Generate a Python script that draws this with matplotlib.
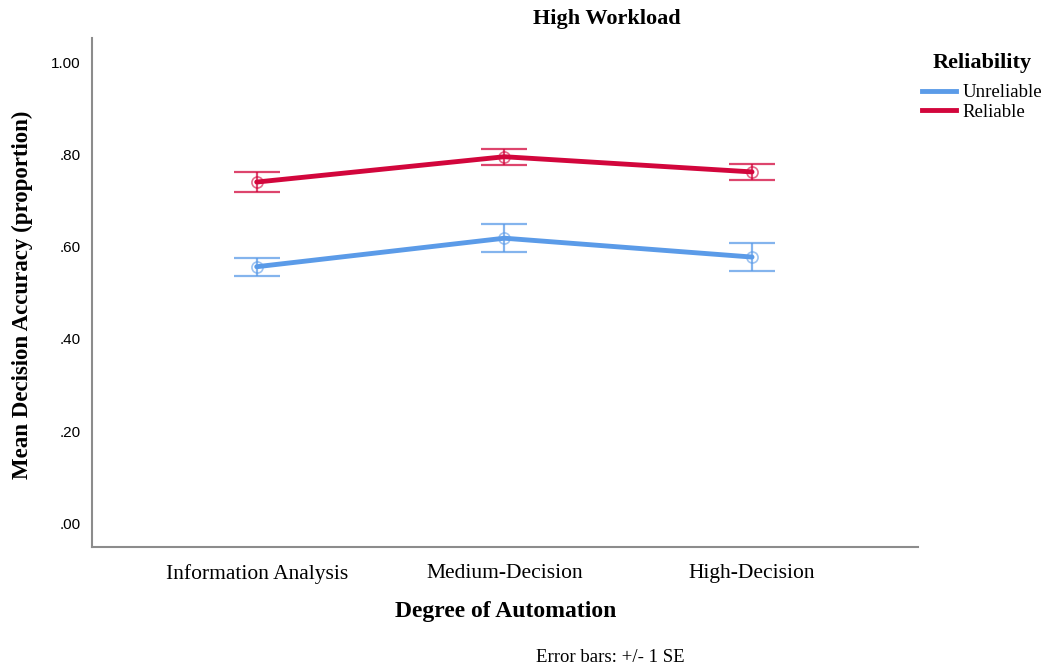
import matplotlib
matplotlib.use("Agg")
import matplotlib.pyplot as plt
from matplotlib.lines import Line2D

categories = ["Information Analysis", "Medium-Decision", "High-Decision"]
series_names = ["Unreliable", "Reliable"]
unreliable_mean = [0.557, 0.619, 0.578]
unreliable_se = [0.020, 0.030, 0.030]
reliable_mean = [0.741, 0.796, 0.763]
reliable_se = [0.021, 0.017, 0.017]
yticks = [0.0, 0.2, 0.4, 0.6, 0.8, 1.0]
ytick_labels = [".00", ".20", ".40", ".60", ".80", "1.00"]

blue = "#5b9be8"
red = "#d2063c"
serif = ["Liberation Serif", "DejaVu Serif"]
sans = ["Liberation Sans", "DejaVu Sans"]

fig = plt.figure(figsize=(10.44, 6.69), dpi=100)
ax = fig.add_axes([92/1044, 1-547/669, (918-92)/1044, (547-38)/669])

x = list(range(len(categories)))
for mean, se, col in [(unreliable_mean, unreliable_se, blue), (reliable_mean, reliable_se, red)]:
    ax.errorbar(x, mean, yerr=se, fmt="none", ecolor=col, elinewidth=1.6,
                capsize=16.5, capthick=1.6, alpha=0.75, zorder=2)
    ax.plot(x, mean, color=col, lw=3.5, zorder=3, solid_capstyle="round")
    ax.plot(x, mean, linestyle="none", marker="o", ms=8, mfc="none",
            mec=col, mew=1.2, alpha=0.6, zorder=4)

ax.set_xlim(-0.665, 2.67)
ax.set_ylim(-0.052, 1.054)
ax.set_xticks(x)
ax.set_xticklabels(categories, fontfamily=serif, fontsize=15.5)
ax.set_yticks(yticks)
ax.set_yticklabels(ytick_labels, fontfamily=sans, fontsize=11)
ax.tick_params(axis="both", length=0)
ax.tick_params(axis="y", pad=8)
ax.tick_params(axis="x", pad=12)
for s in ["top", "right"]:
    ax.spines[s].set_visible(False)
for s in ["left", "bottom"]:
    ax.spines[s].set_color("#8c8c8c")
    ax.spines[s].set_linewidth(1.5)

fig.text(607/1044, 1-19/669, "High Workload", ha="center", va="center",
         fontfamily=serif, fontsize=16, fontweight="bold")
fig.text(506/1044, 1-612/669, "Degree of Automation", ha="center", va="center",
         fontfamily=serif, fontsize=17, fontweight="bold")
fig.text(22/1044, 1-295/669, "Mean Decision Accuracy (proportion)", ha="center",
         va="center", rotation=90, fontfamily=serif, fontsize=16.5, fontweight="bold")
fig.text(610/1044, 1-657/669, "Error bars: +/- 1 SE", ha="center", va="center",
         fontfamily=serif, fontsize=13.5)

handles = [Line2D([0], [0], color=blue, lw=3.5), Line2D([0], [0], color=red, lw=3.5)]
leg = fig.legend(handles, series_names, loc="upper center",
                 bbox_to_anchor=(982/1044, 1-36/669), frameon=False,
                 title="Reliability", handlelength=1.8, handletextpad=0.35,
                 labelspacing=0.15, prop={"family": serif, "size": 13.5})
leg.get_title().set_fontfamily(serif)
leg.get_title().set_fontsize(16)
leg.get_title().set_fontweight("bold")
leg._legend_box.align = "center"
leg._legend_box.sep = 8

fig.savefig("out.png", dpi=100)
